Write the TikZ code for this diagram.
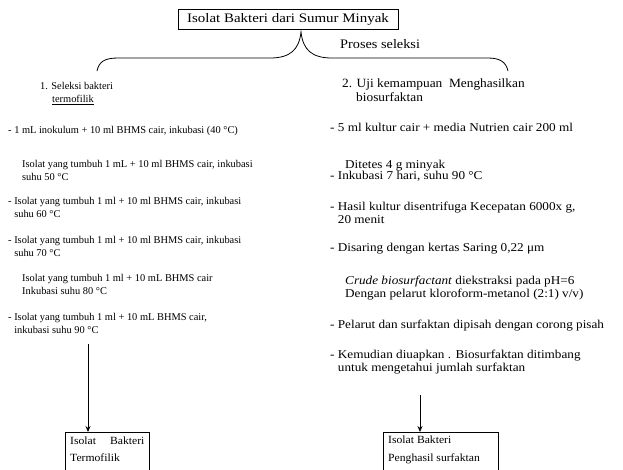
\documentclass[tikz,border=0pt]{standalone}
\usepackage{fontspec}
\setmainfont{Liberation Serif}
\newfontfamily\wideA[FakeStretch=1.15]{Liberation Serif}
\newfontfamily\wideB[FakeStretch=1.10]{Liberation Serif}
\newfontfamily\wideC[FakeStretch=1.06]{Liberation Serif}
\usetikzlibrary{arrows.meta}
\begin{document}
\begin{tikzpicture}[x=1pt,y=-1pt,
  txt/.style={font=\fontsize{10.4}{13}\selectfont, align=left, inner sep=0pt, anchor=north west},
  rtxt/.style={font=\wideB\fontsize{12}{13}\selectfont, align=left, inner sep=0pt, anchor=north west},
  hdr/.style={font=\wideC\fontsize{12.6}{14}\selectfont, align=left, inner sep=0pt, anchor=north west},
  btxt/.style={font=\wideC\fontsize{11}{13}\selectfont, align=left, inner sep=0pt, anchor=north west},
  boxstyle/.style={draw, line width=0.8pt, inner sep=0pt},
  arr/.style={line width=0.8pt, -{Stealth[length=6pt,width=5pt]}},
  brace/.style={line width=0.8pt}
]
\clip (0,0) rectangle (623,469);
\fill[white] (0,0) rectangle (623,469);

% top box
\node (top) [boxstyle, minimum width=220, minimum height=20, font=\wideA\fontsize{13}{14}\selectfont] at (288,19) {Isolat Bakteri dari Sumur Minyak};
\node (proses) [txt, font=\wideB\fontsize{13}{14}\selectfont] at (340,39) {Proses seleksi};

% brace
\coordinate (tip) at (301,32);
\coordinate (bl) at (97,71);
\coordinate (br) at (508,71);
\draw[brace] (bl) .. controls (99,62) and (104,58) .. (118,58) -- (270,58)
  .. controls (290,58) and (299,50) .. (tip)
  .. controls (303,50) and (312,58) .. (332,58) -- (488,58)
  .. controls (500,58) and (506,62) .. (br);

% left column
\node (L1) [txt] at (40,82) {1. Seleksi bakteri\\\hspace{12pt}\underline{termofilik}};
\node (L2) [txt] at (8,126) {- 1 mL inokulum + 10 ml BHMS cair, inkubasi (40 °C)};
\node (L3) [txt] at (22,160) {Isolat yang tumbuh 1 mL + 10 ml BHMS cair, inkubasi\\suhu 50 °C};
\node (L4) [txt] at (8,197) {- Isolat yang tumbuh 1 ml + 10 ml BHMS cair, inkubasi\\\phantom{- }suhu 60 °C};
\node (L5) [txt] at (8,236) {- Isolat yang tumbuh 1 ml + 10 ml BHMS cair, inkubasi\\\phantom{- }suhu 70 °C};
\node (L6) [txt] at (22,274) {Isolat yang tumbuh 1 ml + 10 mL BHMS cair\\Inkubasi suhu 80 °C};
\node (L7) [txt] at (8,313) {- Isolat yang tumbuh 1 ml + 10 mL BHMS cair,\\\phantom{- }inkubasi suhu 90 °C};

\node (lbox) [boxstyle, anchor=north west, minimum width=84, minimum height=60] at (65,432) {};
\node (lb1) [btxt] at (70,437) {Isolat\hspace{14pt}Bakteri};
\node (lb2) [btxt] at (70,454) {Termofilik};
\coordinate (la) at (88,344);
\draw[arr] (la) -- (la |- lbox.north);

% right column
\node (R1) [hdr] at (342,79) {2. Uji kemampuan\ \ Menghasilkan\\\hspace{14pt}biosurfaktan};
\node (R2) [rtxt] at (330,123) {- 5 ml kultur cair + media Nutrien cair 200 ml};
\node (R3) [rtxt] at (345,160) {Ditetes 4 g minyak};
\node (R4) [rtxt] at (330,171) {- Inkubasi 7 hari, suhu 90 °C};
\node (R5) [rtxt] at (330,202) {- Hasil kultur disentrifuga Kecepatan 6000x g,\\\phantom{- }20 menit};
\node (R6) [rtxt] at (330,243) {- Disaring dengan kertas Saring 0,22 μm};
\node (R7) [rtxt] at (345,276) {\textit{Crude biosurfactant} diekstraksi pada pH=6\\Dengan pelarut kloroform-metanol (2:1) v/v)};
\node (R8) [rtxt] at (330,320) {- Pelarut dan surfaktan dipisah dengan corong pisah};
\node (R9) [rtxt] at (330,350) {- Kemudian diuapkan . Biosurfaktan ditimbang\\\phantom{- }untuk mengetahui jumlah surfaktan};

\node (rbox) [boxstyle, anchor=north west, minimum width=115, minimum height=60] at (383,432) {};
\node (rb1) [btxt] at (388,436) {Isolat Bakteri};
\node (rb2) [btxt] at (388,454) {Penghasil surfaktan};
\coordinate (ra) at (420,395);
\draw[arr] (ra) -- (ra |- rbox.north);
\end{tikzpicture}
\end{document}
